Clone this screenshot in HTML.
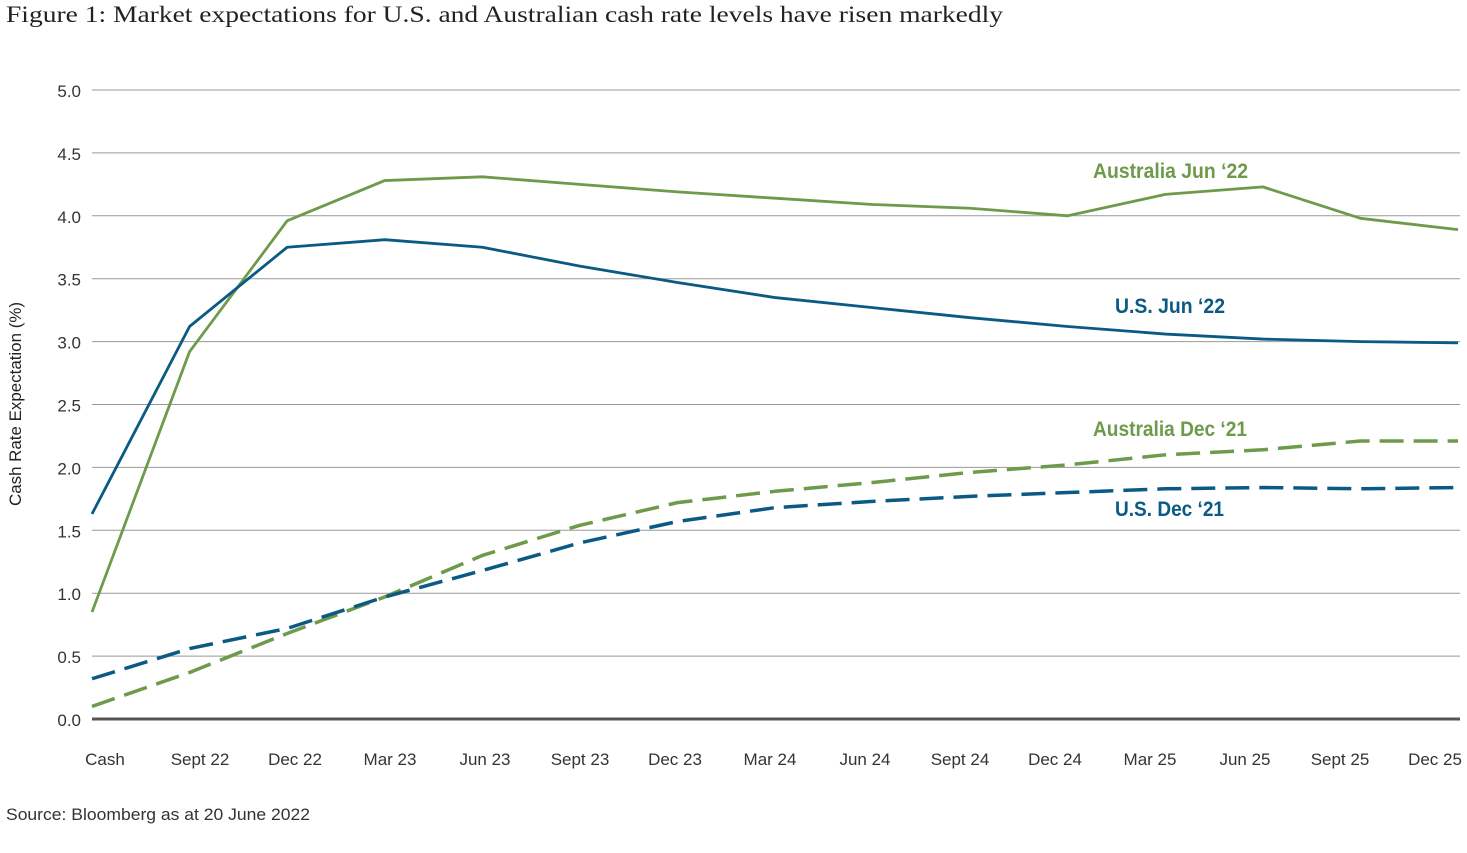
<!DOCTYPE html>
<html><head><meta charset="utf-8">
<style>
body{margin:0;background:#fff;width:1467px;height:853px;overflow:hidden}
svg{display:block}
text{font-family:"Liberation Sans",sans-serif}
</style></head>
<body>
<svg id="chart" width="1467" height="853">
<text x="6" y="22" style="font-family:'Liberation Serif',serif" font-size="23" fill="#222" textLength="997" lengthAdjust="spacingAndGlyphs">Figure 1: Market expectations for U.S. and Australian cash rate levels have risen markedly</text>
<g id="grid"></g>
<g id="series"></g>
<text transform="translate(21,404) rotate(-90)" text-anchor="middle" font-size="17" fill="#222" textLength="204" lengthAdjust="spacingAndGlyphs">Cash Rate Expectation (%)</text>
<text x="6" y="820" font-size="17" fill="#333" textLength="304" lengthAdjust="spacingAndGlyphs">Source: Bloomberg as at 20 June 2022</text>
</svg>
<script>
const categories=["Cash","Sept 22","Dec 22","Mar 23","Jun 23","Sept 23","Dec 23","Mar 24","Jun 24","Sept 24","Dec 24","Mar 25","Jun 25","Sept 25","Dec 25"];
const yTicks=["0.0","0.5","1.0","1.5","2.0","2.5","3.0","3.5","4.0","4.5","5.0"];
const ausJun22=[0.85,2.92,3.96,4.28,4.31,4.25,4.19,4.14,4.09,4.06,4.00,4.17,4.23,3.98,3.89];
const usJun22=[1.63,3.12,3.75,3.81,3.75,3.60,3.47,3.35,3.27,3.19,3.12,3.06,3.02,3.00,2.99];
const ausDec21=[0.10,0.37,0.68,0.97,1.30,1.54,1.72,1.81,1.88,1.96,2.02,2.10,2.14,2.21,2.21];
const usDec21=[0.32,0.56,0.72,0.97,1.18,1.40,1.57,1.68,1.73,1.77,1.80,1.83,1.84,1.83,1.84];
const NS="http://www.w3.org/2000/svg";
const X=i=>92+i*(1458-92)/14;
const Y=v=>719-v*(719-90)/5;
function mk(tag,attrs,parent){const e=document.createElementNS(NS,tag);for(const k in attrs)e.setAttribute(k,attrs[k]);parent.appendChild(e);return e;}
const grid=document.getElementById('grid');
yTicks.forEach((t,i)=>{
  const v=parseFloat(t);
  const l=mk('line',{x1:92,x2:1460,y1:Y(v),y2:Y(v),stroke:v===0?'#555':'#999','stroke-width':v===0?3:1},grid);
  
  
  const tx=mk('text',{x:81,y:Y(v)+7,'text-anchor':'end','font-size':17,fill:'#333'},grid);
  tx.textContent=t;
  
  
});
categories.forEach((c,i)=>{
  const tx=mk('text',{x:105+i*95,y:765,'text-anchor':'middle','font-size':17,fill:'#333'},grid);
  tx.textContent=c;
  
  
});
const sg=document.getElementById('series');
const G='#6e9a4b',B='#0b5a84';
function line(data,color,dash,name){
  const p=mk('polyline',{points:data.map((v,i)=>X(i)+','+Y(v)).join(' '),fill:'none',stroke:color,'stroke-width':dash?3.5:2.8,'stroke-dasharray':dash?'24 10':'none','stroke-linejoin':'round'},sg);
  
  
}
line(ausDec21,G,true,'line-australia-dec21');
line(usDec21,B,true,'line-us-dec21');
line(ausJun22,G,false,'line-australia-jun22');
line(usJun22,B,false,'line-us-jun22');
function lab(txt,x,y,color,name,w){
  const t=mk('text',{x:x,y:y,'font-size':21,'font-weight':'bold',fill:color,textLength:w,lengthAdjust:'spacingAndGlyphs'},sg);
  t.textContent=txt;
  
  
}
lab('Australia Jun \u201822',1093,178,G,'label-australia-jun22',155);
lab('U.S. Jun \u201822',1115,313,B,'label-us-jun22',110);
lab('Australia Dec \u201821',1093,436,G,'label-australia-dec21',154);
lab('U.S. Dec \u201821',1115,516,B,'label-us-dec21',109);
</script>
</body></html>
